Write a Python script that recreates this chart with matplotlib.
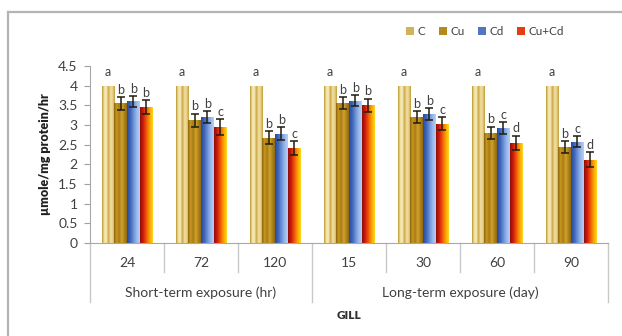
import numpy as np
import matplotlib.pyplot as plt
from matplotlib.colors import LinearSegmentedColormap
from matplotlib.patches import Patch
from matplotlib.lines import Line2D
import matplotlib.transforms as mtransforms

plt.rcParams['font.family'] = ['Lato', 'DejaVu Sans']

# exposure times and treatment groups
times = ['24', '72', '120', '15', '30', '60', '90']
groups = ['Short-term exposure (hr)', 'Long-term exposure (day)']
group_sizes = [3, 4]
treatments = ['C', 'Cu', 'Cd', 'Cu+Cd']

# enzyme activity (umole/mg protein/hr)
c_vals = [4.0, 4.0, 4.0, 4.0, 4.0, 4.0, 4.0]
cu_vals = [3.55, 3.12, 2.68, 3.56, 3.2, 2.8, 2.44]
cd_vals = [3.6, 3.2, 2.78, 3.62, 3.27, 2.93, 2.58]
cucd_vals = [3.46, 2.94, 2.41, 3.5, 3.03, 2.55, 2.12]

c_err = [0, 0, 0, 0, 0, 0, 0]
cu_err = [0.16, 0.17, 0.17, 0.15, 0.16, 0.16, 0.15]
cd_err = [0.13, 0.15, 0.17, 0.14, 0.15, 0.15, 0.14]
cucd_err = [0.17, 0.2, 0.18, 0.17, 0.17, 0.18, 0.2]

c_letters = ['a'] * 7
cu_letters = ['b'] * 7
cd_letters = ['b', 'b', 'b', 'b', 'b', 'c', 'c']
cucd_letters = ['b', 'c', 'c', 'b', 'c', 'd', 'd']

values = [c_vals, cu_vals, cd_vals, cucd_vals]
errors = [c_err, cu_err, cd_err, cucd_err]
letters = [c_letters, cu_letters, cd_letters, cucd_letters]

# Excel-like gradient fills for each series
cmaps = [
    LinearSegmentedColormap.from_list('c', ['#b8952c', '#f3e2a4', '#f7eab8', '#caa648', '#f2dea0', '#e8d088', '#c09c38']),
    LinearSegmentedColormap.from_list('cu', ['#8a6410', '#c8981e', '#a87c14', '#d0a230', '#b08418', '#8c6812']),
    LinearSegmentedColormap.from_list('cd', ['#284a9c', '#3e64b8', '#6a90d6', '#98b8ea', '#b8d0f4']),
    LinearSegmentedColormap.from_list('cucd', ['#8c0c0c', '#d01c0c', '#f05a08', '#f8a400', '#ffd820']),
]
legend_colors = ['#d2b458', '#b48a1c', '#5076c4', '#e23e0e']

fig = plt.figure(figsize=(6.22, 3.36), dpi=100)
ax = fig.add_axes([0.1447, 0.2768, 0.8328, 0.5268])

# chart frame
frame_kw = dict(color='#b4b4b4', lw=1.6, transform=fig.transFigure)
fig.add_artist(Line2D([0.0129, 0.0129], [0, 0.964], **frame_kw))
fig.add_artist(Line2D([0.0129, 1], [0.964, 0.964], **frame_kw))

x = np.arange(len(times))
width = 0.172
grad = np.linspace(0, 1, 128).reshape(1, -1)

for i in range(len(treatments)):
    pos = x + (i - 1.5) * width
    bars = ax.bar(pos, values[i], width, color='none', edgecolor='none', zorder=2)
    for b in bars:
        im = ax.imshow(grad, cmap=cmaps[i], aspect='auto', zorder=2,
                       extent=(b.get_x(), b.get_x() + b.get_width(), 0, b.get_height()))
        im.set_clip_path(b)
    if i > 0:
        ax.errorbar(pos, values[i], yerr=errors[i], fmt='none', ecolor='#221c10',
                    elinewidth=1.1, capsize=2.6, capthick=1.1, zorder=3)
    for j in range(len(times)):
        pad = 0.2 if i == 0 else 0.03
        ax.text(pos[j], values[i][j] + errors[i][j] + pad, letters[i][j],
                ha='center', va='bottom', fontsize=9, color='#404040')

ax.set_xlim(-0.5, len(times) - 0.5)
ax.set_ylim(0, 4.5)
ax.set_yticks(np.arange(0, 4.51, 0.5))
ax.set_yticklabels(['0', '0.5', '1', '1.5', '2', '2.5', '3', '3.5', '4', '4.5'])
ax.tick_params(axis='y', labelsize=10, labelcolor='#404040', length=4, color='#a0a0a0', pad=5)
ax.set_xticks([])
for s in ['top', 'right']:
    ax.spines[s].set_visible(False)
for s in ['left', 'bottom']:
    ax.spines[s].set_color('#a8a8a8')
ax.set_ylabel('µmole/mg protein/hr', fontsize=9, fontweight='heavy', color='#202020', labelpad=5)

# two-level category axis
trans = mtransforms.blended_transform_factory(ax.transData, ax.transAxes)
line_kw = dict(color='#c8c8c8', lw=1, transform=trans, clip_on=False)
for j, t in enumerate(times):
    ax.text(j, -0.115, t, transform=trans, ha='center', va='center', fontsize=10, color='#404040')
bounds = np.cumsum([0] + group_sizes) - 0.5
for k in range(1, len(times)):
    if k - 0.5 not in bounds:
        ax.add_line(Line2D([k - 0.5, k - 0.5], [0, -0.165], **line_kw))
for b in bounds:
    ax.add_line(Line2D([b, b], [0, -0.335], **line_kw))
for g in range(len(groups)):
    ax.text((bounds[g] + bounds[g + 1]) / 2, -0.283, groups[g], transform=trans,
            ha='center', va='center', fontsize=10, color='#404040')
ax.text(0.5, -0.41, 'GILL', transform=ax.transAxes, ha='center', va='center',
        fontsize=8.5, fontweight='heavy', color='#303030')

handles = [Patch(facecolor=c, edgecolor='none') for c in legend_colors]
fig.legend(handles, treatments, loc='center', bbox_to_anchor=(0.78, 0.905), ncol=4,
           frameon=False, fontsize=8.5, handlelength=0.7, handleheight=0.7,
           handletextpad=0.3, columnspacing=1.1, labelcolor='#404040')

fig.savefig('out.png', dpi=100)
